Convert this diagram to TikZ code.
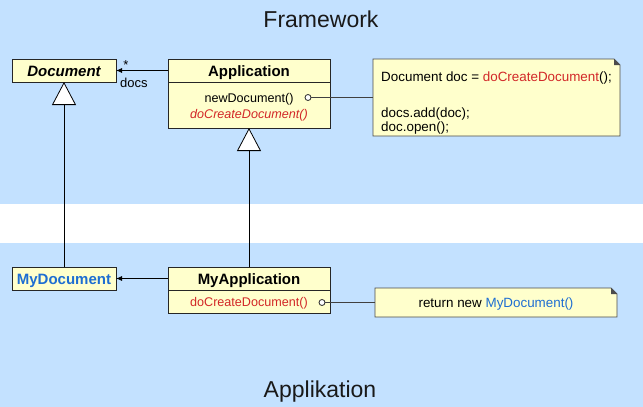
\documentclass[tikz,border=0pt]{standalone}
\usepackage{fontspec}
\setmainfont{Liberation Sans}
\usetikzlibrary{arrows.meta,positioning}

\definecolor{bandblue}{RGB}{195,225,255}
\definecolor{classfill}{RGB}{255,255,204}
\definecolor{hookred}{RGB}{210,40,40}
\definecolor{myblue}{RGB}{30,110,210}

\tikzset{
  classhead/.style={draw=black!85, fill=classfill, line width=0.8pt,
    minimum width=162pt, minimum height=23pt, inner sep=0pt, outer sep=0pt,
    text height=14pt, text depth=1.2pt,
    font=\fontsize{15}{17}\selectfont\bfseries},
  classbody/.style={draw=black!85, fill=classfill, line width=0.8pt,
    minimum width=162pt, inner sep=0pt, outer sep=0pt, align=center,
    font=\fontsize{12.6}{16}\selectfont},
  notebox/.style={inner sep=0pt, outer sep=0pt, align=left,
    font=\fontsize{13.4}{14.5}\selectfont},
  inherit/.style={line width=0.8pt, -{Triangle[open,fill=white,width=24pt,length=23pt]}},
  assoc/.style={line width=0.8pt, -{Latex[length=6pt,width=5pt]}},
  hookdot/.style={circle, draw=black!85, fill=white, line width=0.8pt,
    inner sep=0pt, minimum size=6pt},
  title/.style={font=\fontsize{23}{26}\selectfont, text=black!90}
}

% note outline with folded corner
\newcommand{\notefold}[1]{%
  \filldraw[fill=classfill,draw=black!70,line width=0.8pt]
    (#1.north west) -- ([xshift=-6pt]#1.north east) -- ([yshift=-6pt]#1.north east)
    -- (#1.south east) -- (#1.south west) -- cycle;
  \fill[black!70] ([xshift=-6pt]#1.north east) -- ([yshift=-6pt]#1.north east)
    -- ([xshift=-6pt,yshift=-6pt]#1.north east) -- cycle;
}

\begin{document}
\begin{tikzpicture}[x=1pt,y=-1pt]

\useasboundingbox (0,0) rectangle (643,407);
\fill[white] (0,0) rectangle (643,407);

% bands
\fill[bandblue] (0,0) rectangle (643,204);
\fill[bandblue] (0,243) rectangle (643,407);
\node [title,anchor=base] (fw) at (321,27) {Framework};
\node [title,anchor=base] (ap) at (320,397) {Applikation};

% framework classes
\node [classhead,minimum width=104pt,font=\fontsize{15}{17}\selectfont\bfseries\itshape]
  (doc) at (64,70.5) {Document};
\node [classhead] (app) at (249,70.5) {Application};
\node [classbody,minimum height=46pt] (appops) at (249,105)
  {\rule{0pt}{13pt}newDocument()\\ \textcolor{hookred}{\itshape doCreateDocument()}};

% application classes
\node [classhead,minimum width=104pt] (mydoc) at (64,278.5)
  {\textcolor{myblue}{MyDocument}};
\node [classhead] (myapp) at (249,278.5) {MyApplication};
\node [classbody,minimum height=23pt,text height=11pt,text depth=2pt] (myappops) at (249,301.5)
  {\textcolor{hookred}{doCreateDocument()}};

% notes
\node [notebox,minimum width=247pt,minimum height=77pt] (opennote) at (496.5,97.5) {};
\notefold{opennote}
\node [notebox] (opentext) at (opennote)
  {\rule{0pt}{21pt}Document doc = \textcolor{hookred}{doCreateDocument}();\\[21pt]
   docs.add(doc);\\ doc.open();};
\node [notebox,minimum width=242pt,minimum height=29pt] (factorynote) at (496,302.5) {};
\notefold{factorynote}
\node [notebox,text height=11pt,text depth=2pt] (factorytext) at (factorynote)
  {return new \textcolor{myblue}{MyDocument()}};

% generalisation
\draw [inherit] (mydoc) -- (doc);
\draw [inherit] (myapp) -- (appops);

% associations
\draw [assoc] (app) -- (doc);
\node [anchor=base,font=\fontsize{13}{15}\selectfont] (mult) at (126,69.5) {*};
\node [anchor=base west,inner sep=0pt,font=\fontsize{13}{15}\selectfont] (role) at (120,87) {docs};
\draw [assoc] (myapp) -- (mydoc);

% note links
\node [hookdot] (newdot) at (308,97.5) {};
\draw [black!75,line width=0.8pt] (newdot) -- (opennote);
\node [hookdot] (createdot) at (322,302.5) {};
\draw [black!75,line width=0.8pt] (createdot) -- (factorynote);

\end{tikzpicture}
\end{document}
